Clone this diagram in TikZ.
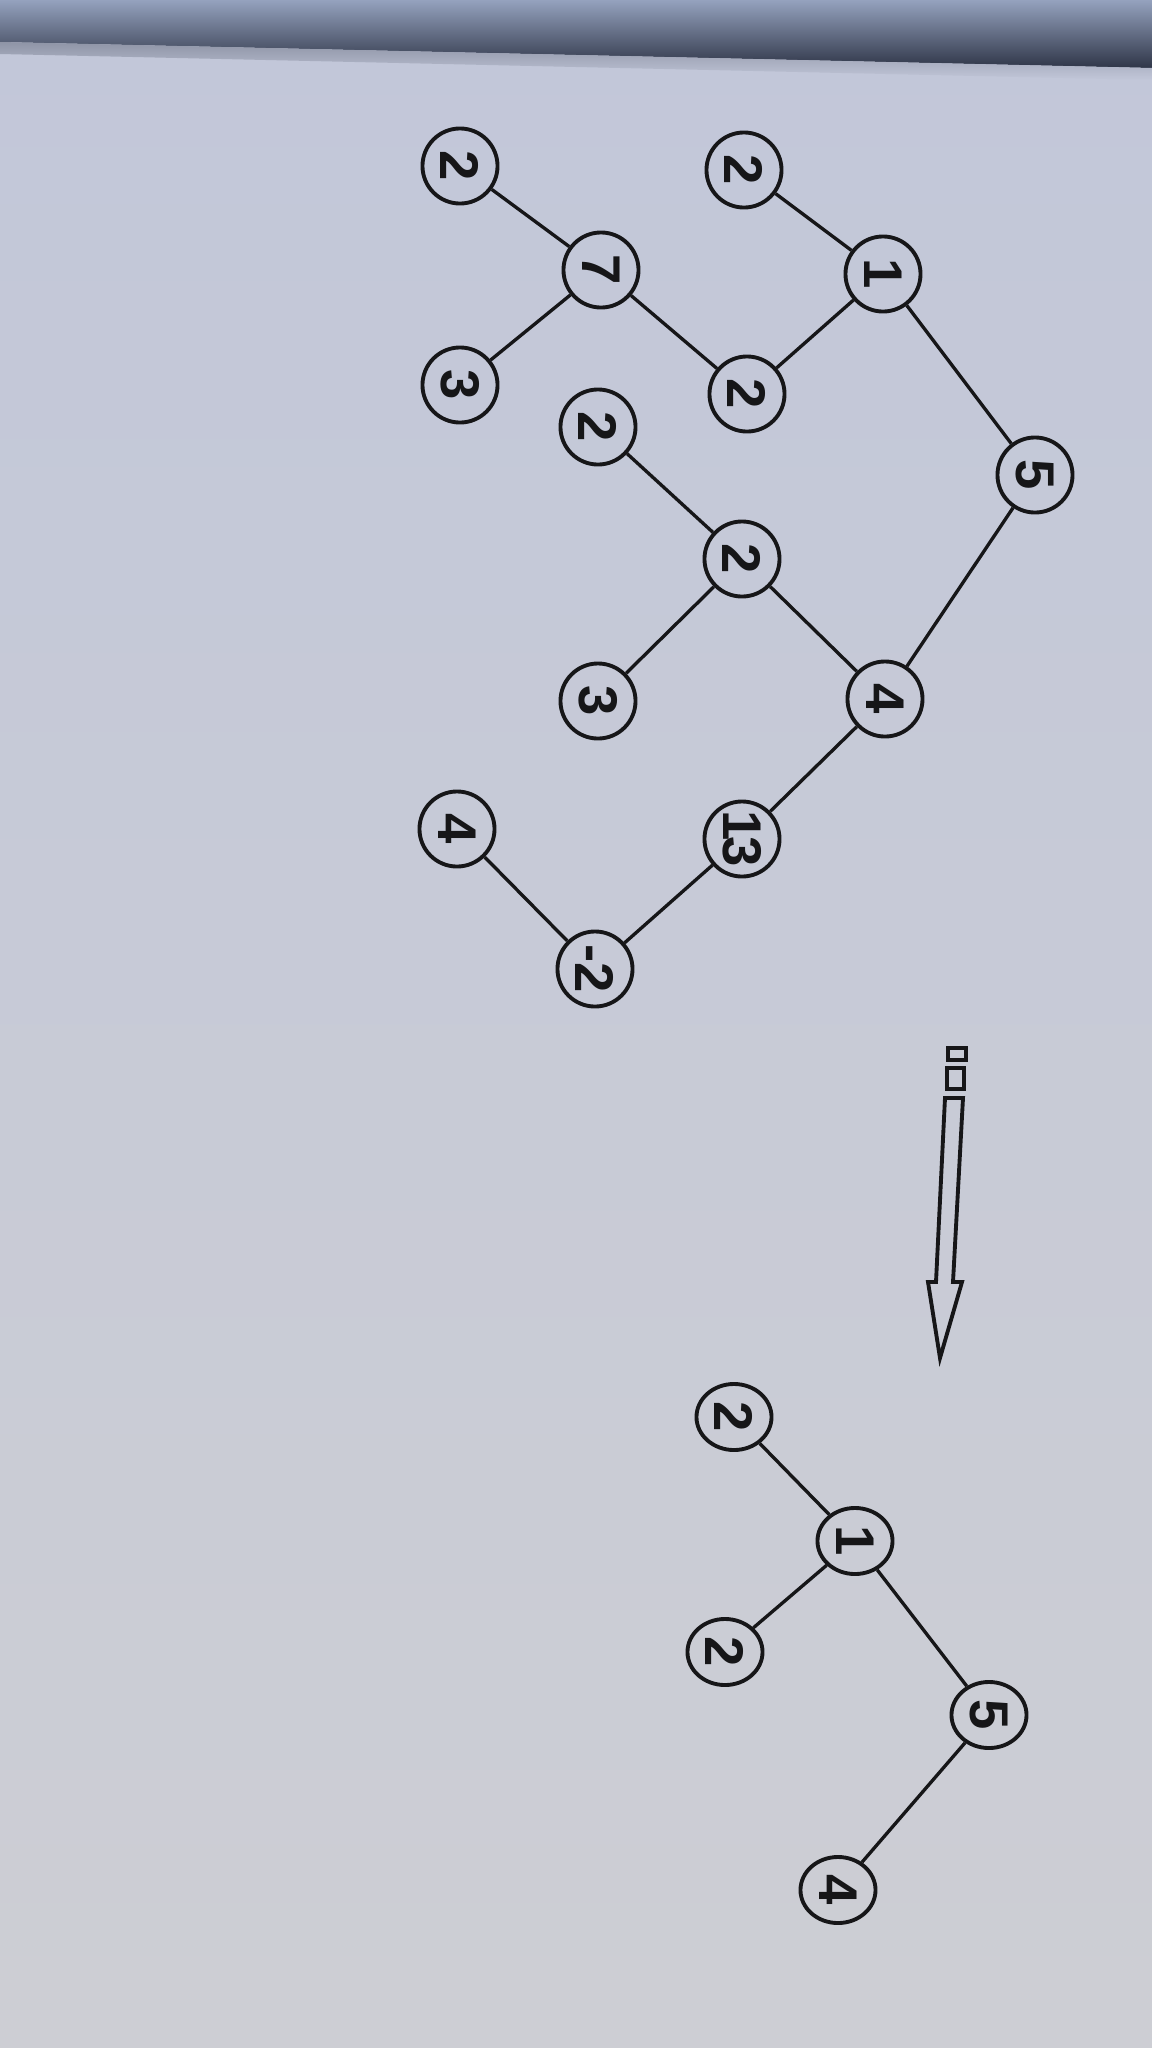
\documentclass[tikz,border=0pt]{standalone}
\usepackage{fontspec}
\setmainfont{Liberation Sans}
\usetikzlibrary{shapes.geometric}
\definecolor{paperTop}{HTML}{C2C7D9}
\definecolor{paperBottom}{HTML}{CDCED4}
\definecolor{foldTop}{HTML}{95A2BE}
\definecolor{foldEdge}{HTML}{2F3648}
\definecolor{ink}{HTML}{161618}
\tikzset{knot/.style={circle, draw=ink, text=ink, line width=1.1pt,
  minimum size=0.75cm, inner sep=0pt, rotate=-90,
  font=\bfseries\fontsize{15.5}{15.5}\selectfont}}
\tikzset{flatknot/.style={knot, ellipse, minimum width=0.66cm,
  minimum height=0.75cm}}
\tikzset{branch/.style={draw=ink, line width=0.95pt}}

\begin{document}
\begin{tikzpicture}[x=0.01cm, y=-0.01cm]
  % paper, with the fold of the page at the top
  \useasboundingbox (0,0) rectangle (1152,2048);
  \shade[top color=paperTop, bottom color=paperBottom] (0,0) rectangle (1152,2048);
  \shade[top color=foldTop, bottom color=foldEdge] (0,0) -- (1152,0) -- (1152,68) -- (0,42) -- cycle;
  \shade[top color=foldEdge!35!paperTop, bottom color=paperTop] (0,42) -- (1152,68) -- (1152,80) -- (0,54) -- cycle;

  % first tree and its leftovers
  \node[knot] (a5) at (1035,475) {5};
  \node[knot] (a1) at (883,274) {1};
  \node[knot] (a2l) at (744,170) {2};
  \node[knot] (a2r) at (747,394) {2};
  \node[knot] (a7) at (601,270) {7};
  \node[knot] (a2t) at (460,166) {2};
  \node[knot] (a3t) at (460,385) {3};
  \draw[branch] (a2l) -- (a1);
  \draw[branch] (a1) -- (a2r);
  \draw[branch] (a1) -- (a5);
  \draw[branch] (a2t) -- (a7);
  \draw[branch] (a7) -- (a3t);
  \draw[branch] (a7) -- (a2r);

  % second part, hanging from 5
  \node[knot] (a4) at (885,699) {4};
  \node[knot] (a2m) at (742,559) {2};
  \node[knot] (a2s) at (598,427) {2};
  \node[knot] (a3m) at (598,701) {3};
  \node[knot] (a13) at (742,839) {1\kern-1.2pt3};
  \node[knot] (am2) at (595,969) {-2};
  \node[knot] (a4s) at (457,829) {4};
  \draw[branch] (a5) -- (a4);
  \draw[branch] (a2s) -- (a2m);
  \draw[branch] (a2m) -- (a3m);
  \draw[branch] (a2m) -- (a4);
  \draw[branch] (a4) -- (a13);
  \draw[branch] (a13) -- (am2);
  \draw[branch] (a4s) -- (am2);

  % hollow arrow, two small bars above it
  \draw[draw=ink, line width=1.1pt] (948,1048) rectangle (966,1060);
  \draw[draw=ink, line width=1.1pt] (947,1068) rectangle (964,1089);
  \draw[draw=ink, line width=1.1pt] (945,1098) -- (963,1098) -- (953,1282) -- (962,1282)
    -- (940,1358) -- (928,1282) -- (936,1282) -- cycle;

  % result
  \node[flatknot] (b1) at (855,1541) {1};
  \node[flatknot] (b2l) at (734,1417) {2};
  \node[flatknot] (b2r) at (725,1652) {2};
  \node[flatknot] (b5) at (989,1715) {5};
  \node[flatknot] (b4) at (838,1890) {4};
  \draw[branch] (b2l) -- (b1);
  \draw[branch] (b1) -- (b2r);
  \draw[branch] (b1) -- (b5);
  \draw[branch] (b5) -- (b4);
\end{tikzpicture}
\end{document}
